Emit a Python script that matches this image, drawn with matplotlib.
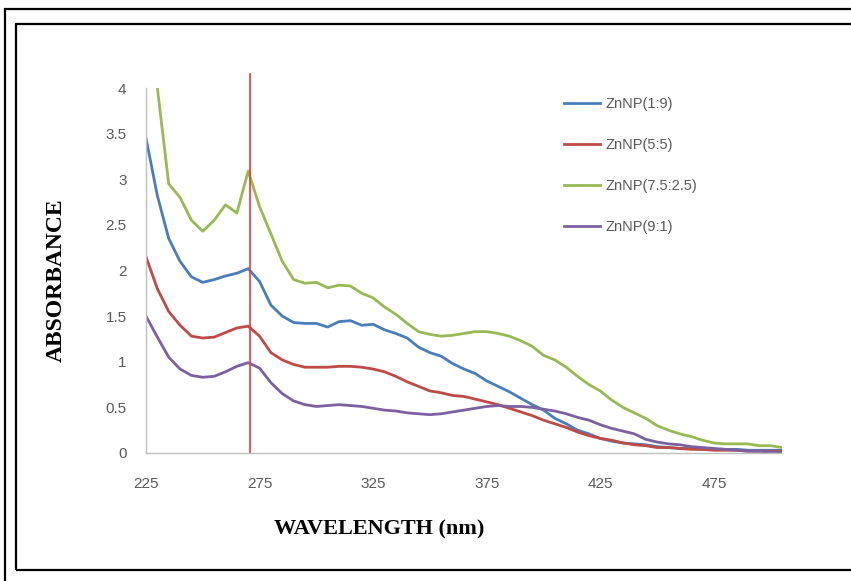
import numpy as np
import matplotlib.pyplot as plt
from matplotlib.patches import Rectangle

# wavelength grid (nm)
wavelength = np.arange(225, 510, 5)

zn_1_9 = [3.45, 2.82, 2.35, 2.10, 1.93, 1.87, 1.90, 1.94, 1.97, 2.02,
          1.88, 1.62, 1.50, 1.43, 1.42, 1.42, 1.38, 1.44, 1.45, 1.40,
          1.41, 1.35, 1.31, 1.26, 1.16, 1.10, 1.06, 0.98, 0.92, 0.87,
          0.79, 0.73, 0.67, 0.60, 0.53, 0.47, 0.38, 0.32, 0.25, 0.21,
          0.16, 0.13, 0.11, 0.10, 0.09, 0.07, 0.06, 0.05, 0.05, 0.04,
          0.04, 0.04, 0.04, 0.03, 0.03, 0.03, 0.03]
zn_5_5 = [2.15, 1.80, 1.55, 1.40, 1.28, 1.26, 1.27, 1.32, 1.37, 1.39,
          1.28, 1.10, 1.02, 0.97, 0.94, 0.94, 0.94, 0.95, 0.95, 0.94,
          0.92, 0.89, 0.84, 0.78, 0.73, 0.68, 0.66, 0.63, 0.62, 0.59,
          0.56, 0.53, 0.49, 0.45, 0.41, 0.36, 0.32, 0.28, 0.23, 0.19,
          0.16, 0.14, 0.11, 0.09, 0.08, 0.06, 0.06, 0.05, 0.04, 0.04,
          0.03, 0.03, 0.03, 0.02, 0.02, 0.02, 0.02]
zn_75_25 = [4.90, 4.00, 2.95, 2.80, 2.55, 2.43, 2.55, 2.72, 2.63, 3.09,
            2.70, 2.40, 2.10, 1.90, 1.86, 1.87, 1.81, 1.84, 1.83, 1.75,
            1.70, 1.60, 1.52, 1.42, 1.33, 1.30, 1.28, 1.29, 1.31, 1.33,
            1.33, 1.31, 1.28, 1.23, 1.17, 1.07, 1.02, 0.94, 0.84, 0.75,
            0.68, 0.58, 0.50, 0.44, 0.38, 0.30, 0.25, 0.21, 0.18, 0.14,
            0.11, 0.10, 0.10, 0.10, 0.08, 0.08, 0.06]
zn_9_1 = [1.50, 1.27, 1.05, 0.92, 0.85, 0.83, 0.84, 0.89, 0.95, 0.99,
          0.93, 0.77, 0.65, 0.57, 0.53, 0.51, 0.52, 0.53, 0.52, 0.51,
          0.49, 0.47, 0.46, 0.44, 0.43, 0.42, 0.43, 0.45, 0.47, 0.49,
          0.51, 0.52, 0.51, 0.51, 0.50, 0.48, 0.46, 0.43, 0.39, 0.36,
          0.31, 0.27, 0.24, 0.21, 0.15, 0.12, 0.10, 0.09, 0.07, 0.06,
          0.05, 0.04, 0.03, 0.02, 0.02, 0.01, 0.01]

labels = ["ZnNP(1:9)", "ZnNP(5:5)", "ZnNP(7.5:2.5)", "ZnNP(9:1)"]
colors = ["#4a7ebb", "#be4b48", "#98b954", "#7d60a0"]
peak_nm = 271
xticks = [225, 275, 325, 375, 425, 475]
yticks = [0, 0.5, 1, 1.5, 2, 2.5, 3, 3.5, 4]
ytick_labels = ["0", "0.5", "1", "1.5", "2", "2.5", "3", "3.5", "4"]

W, H = 851, 581
fig = plt.figure(figsize=(W / 100, H / 100), dpi=100)

# double frame around the chart
fig.patches.append(Rectangle((5 / W, -0.1), 1.2, 1 - 9 / H + 0.1, transform=fig.transFigure,
                             fill=False, edgecolor="black", linewidth=1.6))
fig.patches.append(Rectangle((16 / W, 1 - 570 / H), 1.2, (570 - 24) / H, transform=fig.transFigure,
                             fill=False, edgecolor="black", linewidth=1.6))

ax = fig.add_axes([146 / W, 1 - 453 / H, (782 - 146) / W, (453 - 88) / H])

for ys, lab, c in zip([zn_1_9, zn_5_5, zn_75_25, zn_9_1], labels, colors):
    ax.plot(wavelength, ys, color=c, linewidth=2.0, label=lab)

ax.axvline(peak_nm, ymin=0, ymax=1.037, color="#e8393c", linewidth=1.2, clip_on=False)

ax.set_xlim(225, 505)
ax.set_ylim(0, 4)
ax.set_xticks(xticks)
ax.set_yticks(yticks)
ax.set_yticklabels(ytick_labels)
ax.tick_params(length=0, labelsize=11, labelcolor="#595959", labelfontfamily="Liberation Sans")
ax.tick_params(axis="y", pad=14)
ax.tick_params(axis="x", pad=17)

for s in ["top", "right"]:
    ax.spines[s].set_visible(False)
for s in ["left", "bottom"]:
    ax.spines[s].set_color("#bfbfbf")
    ax.spines[s].set_linewidth(1.0)

ax.set_xlabel("WAVELENGTH (nm)", fontfamily="Liberation Serif", fontweight="bold", fontsize=16)
ax.xaxis.set_label_coords((379 - 146) / (782 - 146), -(519 - 453) / (453 - 88))
ax.set_ylabel("ABSORBANCE", fontfamily="Liberation Serif", fontweight="bold", fontsize=17)
ax.yaxis.set_label_coords(-(146 - 67) / (782 - 146), (453 - 280) / (453 - 88))

leg = ax.legend(loc="upper left", bbox_to_anchor=(551 / W, 1 - 84 / H), bbox_transform=fig.transFigure,
                frameon=False, handlelength=2.45, handletextpad=0.4, labelspacing=1.85,
                prop={"family": "Liberation Sans", "size": 10.5})
for t in leg.get_texts():
    t.set_color("#595959")

fig.savefig("out.png", dpi=100)
